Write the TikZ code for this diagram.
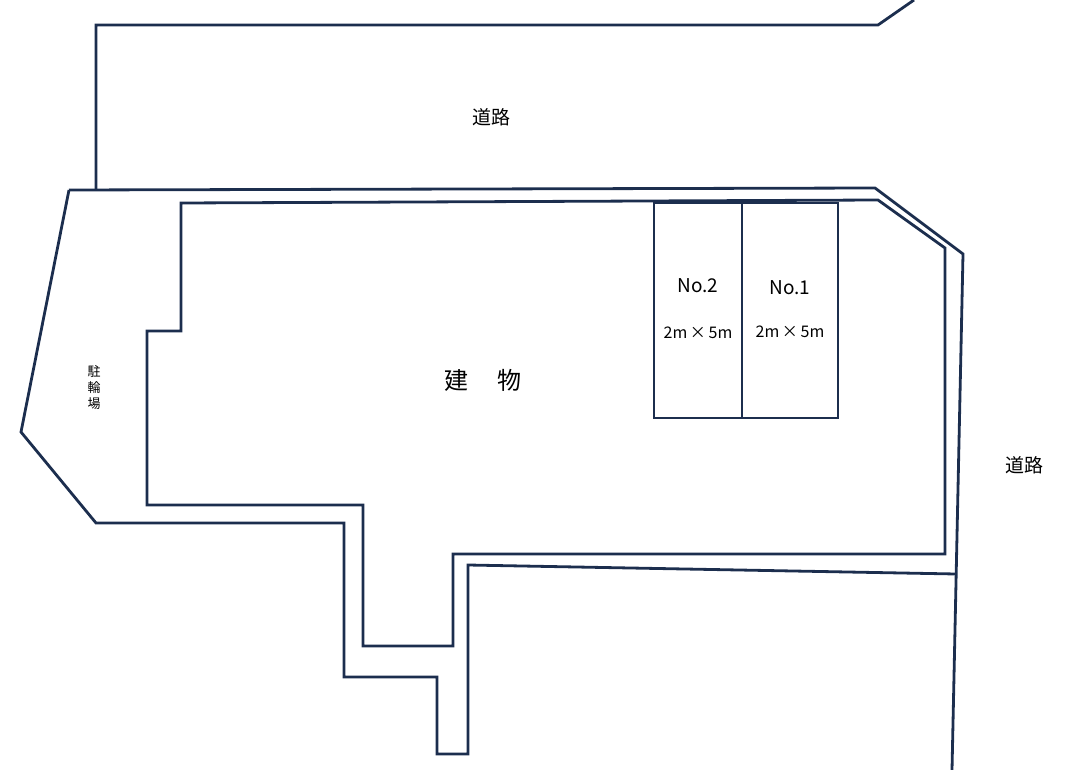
\documentclass[tikz,border=0pt]{standalone}
\usepackage{fontspec}
\setmainfont{Noto Sans CJK JP}
\definecolor{navy}{HTML}{1C2E4E}
\begin{document}
\begin{tikzpicture}
    [   x = 1pt
    ,   y = -1pt
    ,   wall/.style =
        {   draw = navy
        ,   line width = 2.8pt
        ,   line join = miter
        }
    ,   label/.style =
        {   font = \fontsize{19}{22}\selectfont
        ,   inner sep = 0pt
        }
    ]
    \useasboundingbox (0,0) rectangle (1073,770);
    % road and lot boundary
    \draw[wall] (96,190) -- (96,25) -- (878,25) -- (914,0);
    \draw[wall] (69,190) -- (875,188) -- (963,254) -- (952,770);
    \draw[wall] (69,190) -- (21,432) -- (96,523) -- (344,523) -- (344,677)
        -- (437,677) -- (437,754) -- (468,754) -- (468,565) -- (956,574);
    % building
    \draw[wall] (181,203) -- (878,200) -- (945,248) -- (945,554) -- (453,554)
        -- (453,646) -- (363,646) -- (363,505) -- (147,505) -- (147,331)
        -- (181,331) -- cycle;
    % parking
    \draw[wall] (654,203) rectangle (742,418);
    \draw[wall] (742,203) rectangle (838,418);
    \node[label] (road1) at (491,117) {道路};
    \node[label] (road2) at (1024,465) {道路};
    \node[font=\fontsize{13}{16}\selectfont, align=center, inner sep=0pt] (bike) at (94,388) {駐\\輪\\場};
    \node[font=\fontsize{24}{28}\selectfont, inner sep=0pt] (bldg) at (483,380) {建\hspace{1.2em}物};
    \node[label] (no2) at (698,286) {No.2};
    \node[font=\fontsize{16}{19}\selectfont, inner sep=0pt] (sz2) at (698,333) {2m\,×\,5m};
    \node[label] (no1) at (790,288) {No.1};
    \node[font=\fontsize{16}{19}\selectfont, inner sep=0pt] (sz1) at (790,332) {2m\,×\,5m};
\end{tikzpicture}
\end{document}
